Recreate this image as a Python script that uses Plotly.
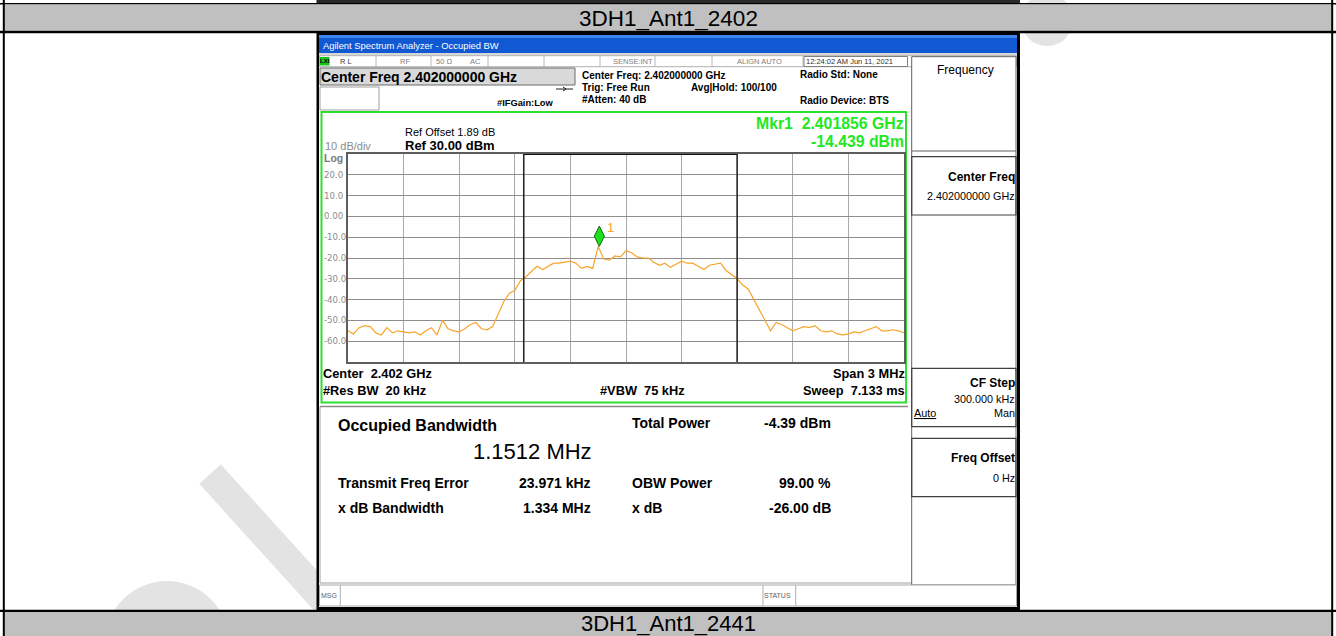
import numpy as np
import plotly.graph_objects as go

W, H = 1336, 636

# ---------------- data ----------------
center_ghz = 2.402
span_ghz = 0.003
ref_level_dbm = 30.0
db_per_div = 10
trace_dbm = [
    -55, -56.5, -53.5, -52.5, -53, -56, -57, -53.5, -56, -55,
    -55.5, -56, -55.5, -57, -55, -53.5, -57, -50, -54, -55,
    -55.5, -54, -52, -51, -54, -54.5, -53, -47, -41, -37,
    -35.5, -31, -29, -26.5, -24, -25.5, -24, -22.5, -22.5, -22,
    -21.5, -22.5, -25, -24, -25, -14.44, -20.5, -21, -19, -19.5,
    -16.5, -17.5, -19.5, -20, -20, -22, -23.5, -22.5, -24.5, -23,
    -21.5, -22.5, -22.5, -24, -25.5, -23.5, -23, -22.5, -26, -28,
    -30, -33, -35, -40, -45, -50, -55, -51, -52, -53.5,
    -55, -54, -53, -53.5, -52.5, -55, -55.5, -55, -56.5, -57,
    -56.5, -55.5, -56, -55, -54, -53, -55, -55, -54.5, -55, -56,
]
y_tick_values = [20, 10, 0, -10, -20, -30, -40, -50, -60]
y_tick_labels = ["20.0", "10.0", "0.00", "-10.0", "-20.0", "-30.0", "-40.0", "-50.0", "-60.0"]
mkr_freq_ghz = 2.401856
mkr_dbm = -14.439
obw_mhz = 1.1512
freq_err_khz = 23.971
section_titles = ["3DH1_Ant1_2402", "3DH1_Ant1_2441"]

# ---------------- helpers ----------------
FONT = "Liberation Sans, Arial, sans-serif"
WIDE = "DejaVu Sans, Verdana, sans-serif"


def px(x):
    return x / W


def py(y):
    return 1 - y / H


shapes = []
annotations = []


def rect(x0, y0, x1, y1, fill=None, line=None, lw=1, layer="below"):
    shapes.append(dict(type="rect", xref="paper", yref="paper",
                       x0=px(x0), x1=px(x1), y0=py(y1), y1=py(y0),
                       fillcolor=fill if fill else "rgba(0,0,0,0)",
                       line=dict(color=line if line else "rgba(0,0,0,0)", width=lw if line else 0),
                       layer=layer))


def seg(x0, y0, x1, y1, color, lw=1, layer="below"):
    shapes.append(dict(type="line", xref="paper", yref="paper",
                       x0=px(x0), x1=px(x1), y0=py(y0), y1=py(y1),
                       line=dict(color=color, width=lw), layer=layer))


def circ(cx, cy, r, fill):
    shapes.append(dict(type="circle", xref="paper", yref="paper",
                       x0=px(cx - r), x1=px(cx + r), y0=py(cy + r), y1=py(cy - r),
                       fillcolor=fill, line=dict(width=0), layer="below"))


def text(s, x, y, size, color="#000000", bold=False, anchor="left", family=FONT, underline=False):
    if underline:
        s = "<u>" + s + "</u>"
    annotations.append(dict(text=s, xref="paper", yref="paper", x=px(x), y=py(y),
                            xanchor=anchor, yanchor="middle", showarrow=False,
                            borderpad=0, borderwidth=0,
                            font=dict(family=family, size=size, color=color,
                                      weight="bold" if bold else "normal")))


NB = "\u00a0"

# ---------------- watermark (behind everything) ----------------
WM = "#e3e3e3"
seg(210, 474, 335, 612, WM, lw=29)
circ(167, 643, 62, WM)
circ(1047, 20, 26, WM)

# ---------------- page table ----------------
rect(316.5, 0, 1020, 3.2, fill="#2a2a2a")
rect(0, 3, W, 4.6, fill="#000000")
rect(3, 4.6, 1333, 30.7, fill="#c0c0c0")
rect(0, 30.7, W, 33.3, fill="#000000")
rect(0, 609.8, W, 612, fill="#000000")
rect(3, 612, 1333, H, fill="#c0c0c0")
rect(2.8, 0, 4.8, H, fill="#000000")
rect(1331.2, 0, 1333.2, H, fill="#000000")
text(section_titles[0], 668, 18.3, 22.5, "#000000", anchor="center")
text(section_titles[1], 668, 623.6, 22, "#000000", anchor="center")

# ---------------- screenshot frame ----------------
rect(316.5, 31, 1020, 611, fill="#000000")
rect(319, 35, 1017, 607, fill="#ffffff")
# title bar
rect(319, 35, 1017, 53, fill="#1158d3")
rect(319, 35, 1017, 38, fill="#3d86ee")
text("Agilent Spectrum Analyzer - Occupied BW", 322.5, 45.5, 9.4, "#ffffff")
# status row
rect(319, 53, 1017, 55.5, fill="#d6d6d6")
rect(319.5, 55.7, 1016.5, 66.7, fill="#ffffff", line="#b0b0b0", lw=1)
for sx in [376, 431, 488, 544, 600, 655, 712, 803]:
    seg(sx, 55.7, sx, 66.7, "#b8b8b8", 1)
rect(320, 57, 329.5, 65.5, fill="#18c418")
text("LXI", 320.3, 61.3, 6, "#000000", bold=True)
ST = "#808080"
text("R L", 340, 61, 7.5, "#404040")
text("RF", 400, 61, 7.5, ST)
text("50 \u03a9", 436, 61, 7.5, ST)
text("AC", 470, 61, 7.5, ST)
text("SENSE:INT", 613, 61, 7.5, ST)
text("ALIGN AUTO", 737, 61, 7.5, ST)
rect(804, 56.5, 907.5, 66.5, line="#808080", lw=1)
text("12:24:02 AM Jun 11, 2021", 806, 61.3, 7.5, "#303030")

# header area
rect(320, 68, 575, 85, fill="#d9d9d9", line="#6a6a6a", lw=1)
text("Center Freq 2.402000000 GHz", 321, 76.8, 14, "#000000", bold=True)
rect(320, 87, 379, 110, fill="#ffffff", line="#a0a0a0", lw=1)
seg(556, 89, 573, 89, "#202020", 1)
seg(563, 87, 566, 89, "#202020", 1)
seg(563, 91, 566, 89, "#202020", 1)
text("#IFGain:Low", 497, 102.5, 9.3, "#000000", bold=True)
text("Center Freq: 2.402000000 GHz", 582, 75, 10, "#000000", bold=True)
text("Trig: Free Run", 582, 87.3, 10, "#000000", bold=True)
text("Avg|Hold: 100/100", 691, 87.3, 10, "#000000", bold=True)
text("#Atten: 40 dB", 582, 100, 10, "#000000", bold=True)
text("Radio Std: None", 800, 74.3, 10, "#000000", bold=True)
text("Radio Device: BTS", 800, 100.7, 10, "#000000", bold=True)

# green measurement frame
rect(321.5, 112, 906, 402.5, fill="#ffffff", line="#2ee02e", lw=2)
text("Ref Offset 1.89 dB", 405, 131.7, 11, "#000000")
text("Ref 30.00 dBm", 405, 145, 13, "#000000", bold=True)
text("10 dB/div", 324.5, 146, 11, "#8c8c8c")
text("Log", 323.5, 157.7, 10.5, "#7a7a7a", bold=True)
GREEN = "#22e822"
text("Mkr1" + NB + NB + "2.401856 GHz", 904, 123.3, 15.8, GREEN, bold=True, anchor="right")
text("-14.439 dBm", 904, 141.7, 15.8, GREEN, bold=True, anchor="right")

text("Center" + NB + NB + "2.402 GHz", 323, 373.6, 12.8, "#000000", bold=True)
text("#Res BW" + NB + NB + "20 kHz", 323, 390.7, 12.8, "#000000", bold=True)
text("#VBW" + NB + NB + "75 kHz", 600, 390.7, 12.8, "#000000", bold=True)
text("Span 3 MHz", 904.5, 373.6, 12.8, "#000000", bold=True, anchor="right")
text("Sweep" + NB + NB + "7.133 ms", 904.5, 390.7, 12.8, "#000000", bold=True, anchor="right")

# results panel
seg(320, 406.5, 908, 406.5, "#8a8a8a", 1.5)
seg(320, 406.5, 320, 583, "#a0a0a0", 1)
seg(320, 583, 911.7, 583, "#a0a0a0", 1)
text("Occupied Bandwidth", 338, 425.5, 16, "#000000", bold=True)
text("%.4f MHz" % obw_mhz, 473, 451, 22, "#000000")
text("Total Power", 632, 423.3, 14, "#000000", bold=True)
text("-4.39 dBm", 830.8, 423.3, 14, "#000000", bold=True, anchor="right")
text("Transmit Freq Error", 338, 483.3, 14, "#000000", bold=True)
text("%.3f kHz" % freq_err_khz, 590.8, 483.3, 14, "#000000", bold=True, anchor="right")
text("OBW Power", 632, 483.3, 14, "#000000", bold=True)
text("99.00 %", 830.8, 483.3, 14, "#000000", bold=True, anchor="right")
text("x dB Bandwidth", 338, 508.3, 14, "#000000", bold=True)
text("1.334 MHz", 590.8, 508.3, 14, "#000000", bold=True, anchor="right")
text("x dB", 632, 508.3, 14, "#000000", bold=True)
text("-26.00 dB", 830.8, 508.3, 14, "#000000", bold=True, anchor="right")

# softkey panel
rect(911.7, 56.7, 1016, 585, fill="#ffffff", line="#606060", lw=1)
seg(911.7, 151, 1016, 151, "#606060", 1)
rect(911.7, 156.7, 1016, 215, line="#404040", lw=1.2)
rect(911.7, 368.3, 1016, 426.7, line="#404040", lw=1.2)
rect(911.7, 438.3, 1016, 496.7, line="#404040", lw=1.2)
text("Frequency", 965, 69.5, 12, "#000000", anchor="center")
text("Center" + NB + "Freq", 1014.5, 176.7, 12, "#000000", bold=True, anchor="right")
text("2.402000000 GHz", 1014.5, 196, 10.8, "#000000", anchor="right")
text("CF" + NB + "Step", 1014.5, 383.3, 12, "#000000", bold=True, anchor="right")
text("300.000 kHz", 1014.5, 399.3, 10.8, "#000000", anchor="right")
text("Auto", 914.3, 413.3, 10.8, "#000000", underline=True)
text("Man", 1014.5, 413.3, 10.8, "#000000", anchor="right")
text("Freq" + NB + "Offset", 1014.5, 458.3, 12, "#000000", bold=True, anchor="right")
text("0 Hz", 1014.5, 478.3, 10.8, "#000000", anchor="right")

# message row
rect(319.5, 585, 1016.5, 606, fill="#ffffff", line="#a8a8a8", lw=1)
seg(340.3, 585, 340.3, 606, "#b0b0b0", 1)
seg(763, 585, 763, 606, "#b0b0b0", 1)
seg(795.7, 585, 795.7, 606, "#b0b0b0", 1)
text("MSG", 321.3, 595.7, 7, "#606060")
text("STATUS", 764, 595.7, 7, "#606060")

# ---------------- spectrum (library axes) ----------------
f_start = center_ghz - span_ghz / 2
f_stop = center_ghz + span_ghz / 2
freqs = np.linspace(f_start, f_stop, len(trace_dbm))
y_bottom = ref_level_dbm - 10 * db_per_div

fig = go.Figure()
fig.add_trace(go.Scatter(x=freqs, y=trace_dbm, mode="lines",
                         line=dict(color="#f8a42a", width=1.2), hoverinfo="skip"))

# marker diamond: bottom tip sits on the marker level
half_height_db = 4.9
fig.add_trace(go.Scatter(x=[mkr_freq_ghz], y=[mkr_dbm + half_height_db], mode="markers",
                         marker=dict(symbol="diamond-tall", size=14.5, color="#1ee01e",
                                     line=dict(color="#0d6e0d", width=1)), hoverinfo="skip"))
annotations.append(dict(text="1", x=mkr_freq_ghz, y=mkr_dbm, xref="x", yref="y",
                        xanchor="left", yanchor="middle", xshift=6, yshift=19, showarrow=False,
                        font=dict(family=FONT, size=13, color="#f8a42a")))

# OBW boundary lines
obw_left = center_ghz + freq_err_khz * 1e-6 - obw_mhz * 1e-3 / 2
obw_right = center_ghz + freq_err_khz * 1e-6 + obw_mhz * 1e-3 / 2
for fx in (obw_left, obw_right):
    shapes.append(dict(type="line", xref="x", yref="y", x0=fx, x1=fx, y0=y_bottom, y1=ref_level_dbm,
                       line=dict(color="#2a2a2a", width=1.6), layer="above"))
shapes.append(dict(type="line", xref="x", yref="y", x0=obw_left, x1=obw_right,
                   y0=ref_level_dbm, y1=ref_level_dbm, line=dict(color="#111111", width=2), layer="above"))

# y tick labels drawn at axis values
for v, lab in zip(y_tick_values, y_tick_labels):
    annotations.append(dict(text=lab, xref="paper", yref="y", x=px(324), y=v,
                            xanchor="left", yanchor="middle", showarrow=False,
                            borderpad=0, borderwidth=0,
                            font=dict(family=WIDE, size=8.6, color="#8c8c8c")))

fig.update_layout(
    width=W, height=H, margin=dict(l=0, r=0, t=0, b=0, pad=0),
    paper_bgcolor="#ffffff", plot_bgcolor="rgba(0,0,0,0)", showlegend=False,
    xaxis=dict(domain=[px(348), px(904)], range=[f_start, f_stop], tick0=f_start, dtick=span_ghz / 10,
               showgrid=True, gridcolor="#a9a9a9", gridwidth=1.2, showticklabels=False, ticks="",
               zeroline=False, showline=True, mirror=True, linecolor="#5e5e5e", linewidth=2),
    yaxis=dict(domain=[py(362), py(154)], range=[y_bottom, ref_level_dbm], tick0=ref_level_dbm,
               dtick=db_per_div, showgrid=True, gridcolor="#8e8e8e", gridwidth=1.2,
               showticklabels=False, ticks="", zeroline=False, showline=True, mirror=True,
               linecolor="#5e5e5e", linewidth=2),
    shapes=shapes, annotations=annotations,
)

fig.write_html("out.html", config={"displayModeBar": False},
               post_script="document.body.style.margin='0';document.body.style.overflow='hidden';")
